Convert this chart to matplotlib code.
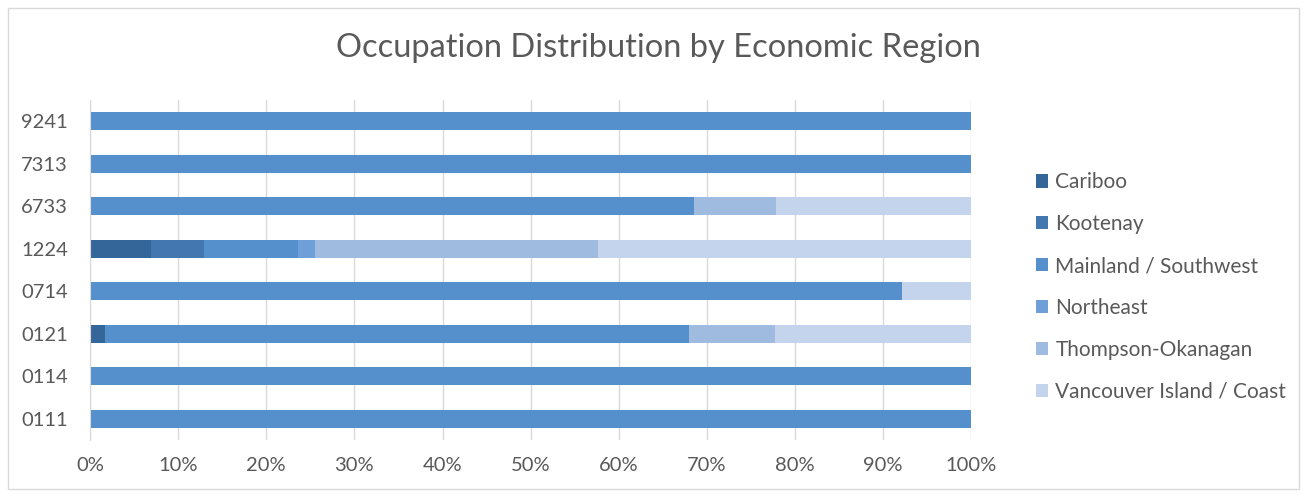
import numpy as np
import matplotlib.pyplot as plt
import matplotlib.ticker as ticker
from matplotlib.patches import Rectangle

# occupations, bottom to top
occupations = ['0111', '0114', '0121', '0714', '1224', '6733', '7313', '9241']
regions = ['Cariboo', 'Kootenay', 'Mainland / Southwest', 'Northeast',
           'Thompson-Okanagan', 'Vancouver Island / Coast']

# share (%) of each region per occupation
cariboo   = [0, 0, 1.7, 0, 6.9, 0, 0, 0]
kootenay  = [0, 0, 0, 0, 6.0, 0, 0, 0]
mainland  = [100, 100, 66.3, 92.2, 10.7, 68.5, 100, 100]
northeast = [0, 0, 0, 0, 1.9, 0, 0, 0]
thompson  = [0, 0, 9.7, 0, 32.2, 9.4, 0, 0]
vancouver = [0, 0, 22.3, 7.8, 42.3, 22.1, 0, 0]

series = [cariboo, kootenay, mainland, northeast, thompson, vancouver]
colors = ['#35669A', '#4277B0', '#5590CC', '#6F9FD8', '#9FBCE0', '#C3D4EC']

plt.rcParams['font.family'] = ['Lato', 'DejaVu Sans']
txt = '#595959'

fig = plt.figure(figsize=(13.07, 4.97), dpi=100)
ax = fig.add_axes([0.0689, 0.1147, 0.6742, 0.6843])

y = np.arange(len(occupations))
left = np.zeros(len(occupations))
for name, vals, c in zip(regions, series, colors):
    vals = np.array(vals)
    ax.barh(y, vals, left=left, height=0.42, color=c, label=name)
    left += vals

ax.set_xlim(0, 100)
ax.set_ylim(-0.5, len(occupations) - 0.5)
ax.set_yticks(y)
ax.set_yticklabels(occupations)
ax.xaxis.set_major_locator(ticker.MultipleLocator(10))
ax.xaxis.set_major_formatter(ticker.FuncFormatter(lambda v, p: '{:.0f}%'.format(v)))
ax.tick_params(axis='both', length=0, labelsize=14.5, colors=txt)
ax.tick_params(axis='x', pad=12)
ax.tick_params(axis='y', pad=16)
ax.grid(axis='x', color='#D9D9D9', linewidth=1)
ax.set_axisbelow(True)
for s in ['top', 'right', 'bottom']:
    ax.spines[s].set_visible(False)
ax.spines['left'].set_color('#D9D9D9')

fig.text(0.5035, 0.903, 'Occupation Distribution by Economic Region',
         ha='center', va='center', fontsize=23.5, color=txt)

leg = fig.legend(loc='center left', bbox_to_anchor=(0.778, 0.4225),
                 frameon=False, fontsize=15, labelcolor=txt,
                 handlelength=0.6, handleheight=0.6,
                 handletextpad=0.35, labelspacing=1.05)

fig.patches.append(Rectangle((0.006, 0.016), 0.988, 0.968, transform=fig.transFigure,
                             fill=False, edgecolor='#D9D9D9', linewidth=1))

fig.savefig('out.png', dpi=100, facecolor='white')
